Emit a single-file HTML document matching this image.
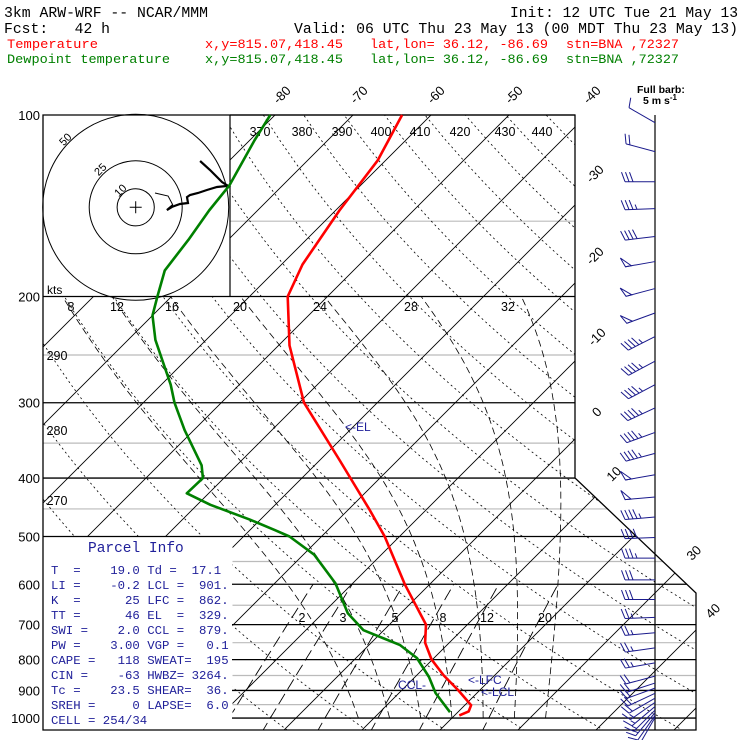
<!DOCTYPE html>
<html><head><meta charset="utf-8">
<style>
html,body{margin:0;padding:0;background:#fff;}
svg{display:block;}
text{font-family:"Liberation Sans",sans-serif;}
.mono{font-family:"Liberation Mono",monospace;}
</style></head>
<body>
<svg id="chart" xmlns="http://www.w3.org/2000/svg" width="740" height="740" viewBox="0 0 740 740">
<defs>
<clipPath id="gridclip"><polygon points="43,115 575,115 575,478 696,593 696,730 43,730"/></clipPath>
</defs>
<rect x="0" y="0" width="740" height="740" fill="#fff"/>
<g>
<text class="mono" x="4" y="17" font-size="14.5" textLength="204" lengthAdjust="spacingAndGlyphs">3km ARW-WRF -- NCAR/MMM</text>
<text class="mono" x="510" y="17" font-size="14.5" textLength="228" lengthAdjust="spacingAndGlyphs">Init: 12 UTC Tue 21 May 13</text>
<text class="mono" x="4" y="33" font-size="14.5" textLength="106" lengthAdjust="spacingAndGlyphs" xml:space="preserve">Fcst:   42 h</text>
<text class="mono" x="294" y="33" font-size="14.5" textLength="444" lengthAdjust="spacingAndGlyphs">Valid: 06 UTC Thu 23 May 13 (00 MDT Thu 23 May 13)</text>
<g fill="#ff0000">
<text class="mono" x="7" y="48" font-size="13" textLength="91" lengthAdjust="spacingAndGlyphs">Temperature</text>
<text class="mono" x="205" y="48" font-size="13" textLength="138" lengthAdjust="spacingAndGlyphs">x,y=815.07,418.45</text>
<text class="mono" x="370" y="48" font-size="13" textLength="178" lengthAdjust="spacingAndGlyphs">lat,lon= 36.12, -86.69</text>
<text class="mono" x="566" y="48" font-size="13" textLength="113" lengthAdjust="spacingAndGlyphs">stn=BNA ,72327</text>
</g>
<g fill="#008000">
<text class="mono" x="7" y="63" font-size="13" textLength="163" lengthAdjust="spacingAndGlyphs">Dewpoint temperature</text>
<text class="mono" x="205" y="63" font-size="13" textLength="138" lengthAdjust="spacingAndGlyphs">x,y=815.07,418.45</text>
<text class="mono" x="370" y="63" font-size="13" textLength="178" lengthAdjust="spacingAndGlyphs">lat,lon= 36.12, -86.69</text>
<text class="mono" x="566" y="63" font-size="13" textLength="113" lengthAdjust="spacingAndGlyphs">stn=BNA ,72327</text>
</g>
</g>
<g id="grid" clip-path="url(#gridclip)"></g>
<g id="covers"></g>
<g id="frame"></g>
<g id="labels" font-size="12.5"></g>
<g id="hodo"></g>
<g id="profiles"></g>
<g id="barbs"></g>
<g id="parcel" fill="#20209a"></g>
<g>
<text x="637" y="93" font-size="10.5" font-weight="bold" font-family="Liberation Serif,serif">Full barb:</text>
<text x="643" y="104" font-size="10.5" font-weight="bold" font-family="Liberation Serif,serif">5 m s<tspan dy="-4" font-size="8">-1</tspan></text>
</g>
</svg>
<script>
// ---- data ----
const pressureLevels = [100,200,300,400,500,600,700,800,900,1000];
const grayLevels = [150,250,350,450,550,650,750,850,950];
const tempP = [100,119,144,177,200,241,300,374,452,500,600,700,750,800,850,900,952,975,990];
const tempT = [-63.7,-61,-59.5,-57.3,-55.1,-48.6,-39.4,-27.4,-17.2,-11.9,-3.2,4.7,6.9,9.9,13.5,17.3,20.8,21.3,20.6];
const dewP = [100,110,131,144,161,181,200,215,236,280,300,333,381,400,424,443,469,488,500,536,598,670,715,757,795,855,909,978];
const dewT = [-80.6,-79.4,-76.8,-76.2,-75.1,-74.2,-71.8,-70,-66.5,-58.8,-56,-51.2,-44.5,-42.7,-42.8,-38.3,-31.3,-26.8,-24.1,-18.6,-12.2,-6.8,-2.6,4,7.8,11.8,14.7,19];
const barbP = [103,115,129,143,159,175,194,213,233,256,280,306,336,364,395,430,464,502,543,590,636,681,722,765,810,852,875,892,910,927,942,957,970,980,990,998];
const barbSpd = [5,10,15,17.5,20,25,25,25,22.5,22.5,22.5,22.5,22.5,22.5,25,25,22.5,20,17.5,15,15,12.5,12.5,12.5,12.5,10,10,10,10,10,7.5,7.5,7.5,7.5,5,5];
const barbDir = [300,285,270,268,263,260,255,250,243,242,242,245,250,255,260,265,265,268,270,270,270,268,265,262,260,255,252,250,245,240,235,230,225,220,215,210];
const hodoU = [10.4,17.4,20,16.8,19.5,23.8,28.1,27.6,29.2,33.5,38.3,43.7,49.6,46.4,43.7,39.9,34.6];
const hodoV = [7.7,6.1,1.2,-1.5,0.2,1.8,2.3,5.5,6.6,7.7,9.3,10.9,11.5,13.6,16.3,20.1,24.9];
const isoTemps = [-130,-120,-110,-100,-90,-80,-70,-60,-50,-40,-30,-20,-10,0,10,20,30,40,50];
const thetaLines = [250,260,270,280,290,300,310,320,330,340,350,360,370,380,390,400,410,420,430,440,450];
const thetaW = [8,12,16,20,24,28,32];
const mixRatios = [2,3,5,8,12,20];

// ---- axes ----
const NS='http://www.w3.org/2000/svg';
function yP(p){return 115+261.9*Math.log(p/100);}
function xT(T,p){return 587+7.8*(T+40)-(yP(p)-115);}
function mk(tag,attrs,parent){const e=document.createElementNS(NS,tag);for(const k in attrs)e.setAttribute(k,attrs[k]);parent.appendChild(e);return e;}
const grid=document.getElementById('grid');
function rightEdge(y){if(y<=478)return 575;if(y<=593)return 575+(y-478)*121/115;return 696;}

grayLevels.forEach(p=>{const y=yP(p);
 const l=mk('line',{x1:43,x2:rightEdge(y),y1:y,y2:y,stroke:'#bbbbbb','stroke-width':1.2},grid);
 
 
});
isoTemps.forEach(T=>{
 const l=mk('line',{x1:xT(T,1060),y1:yP(1060),x2:xT(T,90),y2:yP(90),stroke:'#000','stroke-width':0.9},grid);
 
 
});
thetaLines.forEach(th=>{let pts=[];for(let p=1060;p>=95;p-=10){const T=th*Math.pow(p/1000,0.2857)-273.15;pts.push(xT(T,p).toFixed(1)+','+yP(p).toFixed(1));}
 const l=mk('polyline',{points:pts.join(' '),fill:'none',stroke:'#000','stroke-width':0.8,'stroke-dasharray':'2,3'},grid);
 
 
});
function dTdp(T,p){const es=6.112*Math.exp(17.67*(T-273.15)/(T-29.65));const rs=0.622*es/(p-es);
 return (287*T+2.5e6*rs)/(p*(1004+2.5e6*2.5e6*rs*0.622/(287*T*T)));}
thetaW.forEach(tw=>{let T=tw+273.15;let pts=[];
 for(let p=1000;p>=200;p-=2){ if(p%10===0)pts.push(xT(T-273.15,p).toFixed(1)+','+yP(p).toFixed(1)); T+= dTdp(T,p)*(-2);}
 const l=mk('polyline',{points:pts.join(' '),fill:'none',stroke:'#000','stroke-width':0.8,'stroke-dasharray':'7,4'},grid);
 
 
});
mixRatios.forEach(w=>{let pts=[];for(let p=1060;p>=600;p-=10){const e=(w/1000)*p/(0.622+w/1000);const a=Math.log(e/6.112);const Td=243.5*a/(17.67-a);pts.push(xT(Td,p).toFixed(1)+','+yP(p).toFixed(1));}
 const l=mk('polyline',{points:pts.join(' '),fill:'none',stroke:'#000','stroke-width':0.9,'stroke-dasharray':'12,5'},grid);
 
 
});
const cov=document.getElementById('covers');
mk('rect',{x:43.5,y:115.5,width:186.5,height:180.5,fill:'#fff'},cov);
mk('rect',{x:43.5,y:536.5,width:189,height:193,fill:'#fff'},cov);
const frame=document.getElementById('frame');
pressureLevels.forEach(p=>{const y=yP(p);const x1=(p>500)?232:(p<200?230:43);
 const l=mk('line',{x1:x1,x2:rightEdge(y),y1:y,y2:y,stroke:'#000','stroke-width':1.3},frame);
 
 
});
mk('polygon',{points:'43,115 575,115 575,478 696,593 696,730 43,730',fill:'none',stroke:'#000','stroke-width':1.3},frame);
mk('line',{x1:230,y1:115,x2:230,y2:296,stroke:'#000','stroke-width':1.2},frame);
mk('line',{x1:655,y1:115,x2:655,y2:730,stroke:'#000','stroke-width':1.2},frame);

const lab=document.getElementById('labels');
function txt(s,x,y,attrs,name){const t=mk('text',Object.assign({x:x,y:y},attrs||{}),lab);t.textContent=s;
 
 return t;}
pressureLevels.forEach(p=>txt(String(p),40,yP(p)+5,{'text-anchor':'end','font-size':13},'pressure-label-'+p));
[[-80,285,98],[-70,362,98],[-60,439,98],[-50,517,98],[-40,595,98],[-30,598,177],[-20,598,259],[-10,600,340],[0,600,415],[10,617,477],[30,697,556],[40,716,614]].forEach(a=>{
 txt(String(a[0]),a[1],a[2],{'text-anchor':'middle',transform:'rotate(-45 '+a[1]+' '+a[2]+')','font-size':13},'isotherm-label-'+a[0]);});
[[370,260],[380,302],[390,342],[400,381],[410,420],[420,460],[430,505],[440,542]].forEach(a=>txt(String(a[0]),a[1],136,{'text-anchor':'middle'},'theta-label-'+a[0]));
[[290,57,360],[280,57,435],[270,57,505]].forEach(a=>txt(String(a[0]),a[1],a[2],{'text-anchor':'middle'},'theta-label-'+a[0]));
[[8,71],[12,117],[16,172],[20,240],[24,320],[28,411],[32,508]].forEach(a=>txt(String(a[0]),a[1],311,{'text-anchor':'middle'},'moist-label-'+a[0]));
[[2,302],[3,343],[5,395],[8,443],[12,487],[20,545]].forEach(a=>txt(String(a[0]),a[1],622,{'text-anchor':'middle'},'mixing-label-'+a[0]));
txt('kts',47,294,{'font-size':12},'hodograph-units');
[['<-EL',345,431],['CCL-',398,689],['<-LFC',468,684],['<-LCL',481,696]].forEach(a=>txt(a[0],a[1],a[2],{fill:'#20209a','font-size':12},'marker-'+a[0].replace(/[<\-]/g,'').toLowerCase()));

const hodo=document.getElementById('hodo');
const hc=[135.7,207.3],hs=1.86;
[10,25,50].forEach(r=>{const c=mk('circle',{cx:hc[0],cy:hc[1],r:r*hs,fill:'none',stroke:'#000','stroke-width':1},hodo);
 
 });
[['10',123,193],['25',103,172],['50',68,142]].forEach(a=>{const t=mk('text',{x:a[1],y:a[2],'font-size':11,'text-anchor':'middle',transform:'rotate(-45 '+a[1]+' '+a[2]+')'},hodo);t.textContent=a[0];
 
 });
mk('path',{d:'M'+(hc[0]-6)+','+hc[1]+'h12M'+hc[0]+','+(hc[1]-6)+'v12',stroke:'#000','stroke-width':1},hodo);
const hx=i=>(hc[0]+hodoU[i]*hs).toFixed(1), hy=i=>(hc[1]-hodoV[i]*hs).toFixed(1);
let thin=[],thick=[];hodoU.forEach((u,i)=>{if(i<=2)thin.push(hx(i)+','+hy(i));if(i>=2)thick.push(hx(i)+','+hy(i));});
const h1=mk('polyline',{points:thin.join(' '),fill:'none',stroke:'#000','stroke-width':1},hodo);


const h2=mk('polyline',{points:thick.join(' '),fill:'none',stroke:'#000','stroke-width':2.2},hodo);



const prof=document.getElementById('profiles');
const tl=mk('polyline',{points:tempP.map((p,i)=>xT(tempT[i],p).toFixed(1)+','+yP(p).toFixed(1)).join(' '),fill:'none',stroke:'#ff0000','stroke-width':2.6,'stroke-linejoin':'round'},prof);


const dl=mk('polyline',{points:dewP.map((p,i)=>xT(dewT[i],p).toFixed(1)+','+yP(p).toFixed(1)).join(' '),fill:'none',stroke:'#008000','stroke-width':2.6,'stroke-linejoin':'round'},prof);



const bg=document.getElementById('barbs');
barbP.forEach((p,i)=>{const y=yP(p),spd=barbSpd[i],r=barbDir[i]*Math.PI/180;
 const sx=Math.sin(r),sy=-Math.cos(r),px=-sy,py=sx;
 const g=mk('g',{stroke:'#1a1a8c','stroke-width':1,fill:'none'},bg);
 
 
 const L=30;mk('line',{x1:655,y1:y,x2:655+L*sx,y2:y+L*sy},g);
 let pos=L,rem=spd;const bx=px*9.5+sx*3.5,by=py*9.5+sy*3.5;
 while(rem>=25){const ax=655+pos*sx,ay=y+pos*sy,cx=655+(pos-6)*sx,cy=y+(pos-6)*sy;
  mk('polygon',{points:ax+','+ay+' '+(ax+bx)+','+(ay+by)+' '+cx+','+cy},g);pos-=8;rem-=25;}
 while(rem>=5){const ax=655+pos*sx,ay=y+pos*sy;mk('line',{x1:ax,y1:ay,x2:ax+bx,y2:ay+by},g);pos-=4;rem-=5;}
 if(rem>=2.5){const ax=655+pos*sx,ay=y+pos*sy;mk('line',{x1:ax,y1:ay,x2:ax+bx/2,y2:ay+by/2},g);}
});

const pg=document.getElementById('parcel');
const pt=mk('text',{x:88,y:552,'font-size':14.5,'class':'mono'},pg);pt.textContent='Parcel Info';


const rows=['T  =    19.0 Td =  17.1','LI =    -0.2 LCL =  901.','K  =      25 LFC =  862.','TT =      46 EL  =  329.','SWI =    2.0 CCL =  879.','PW =    3.00 VGP =   0.1','CAPE =   118 SWEAT=  195','CIN =    -63 HWBZ= 3264.','Tc =    23.5 SHEAR=  36.','SREH =     0 LAPSE=  6.0','CELL = 254/34'];
const rowY=[574,589,604,619,634,649,664,679,694,709,724];
rows.forEach((s,i)=>{const t=mk('text',{x:51,y:rowY[i],'font-size':12.3,'class':'mono','xml:space':'preserve',textLength:(s.length*7.4).toFixed(1),lengthAdjust:'spacingAndGlyphs'},pg);
 t.style.whiteSpace='pre';t.textContent=s;
 
 });
</script>
</body></html>
